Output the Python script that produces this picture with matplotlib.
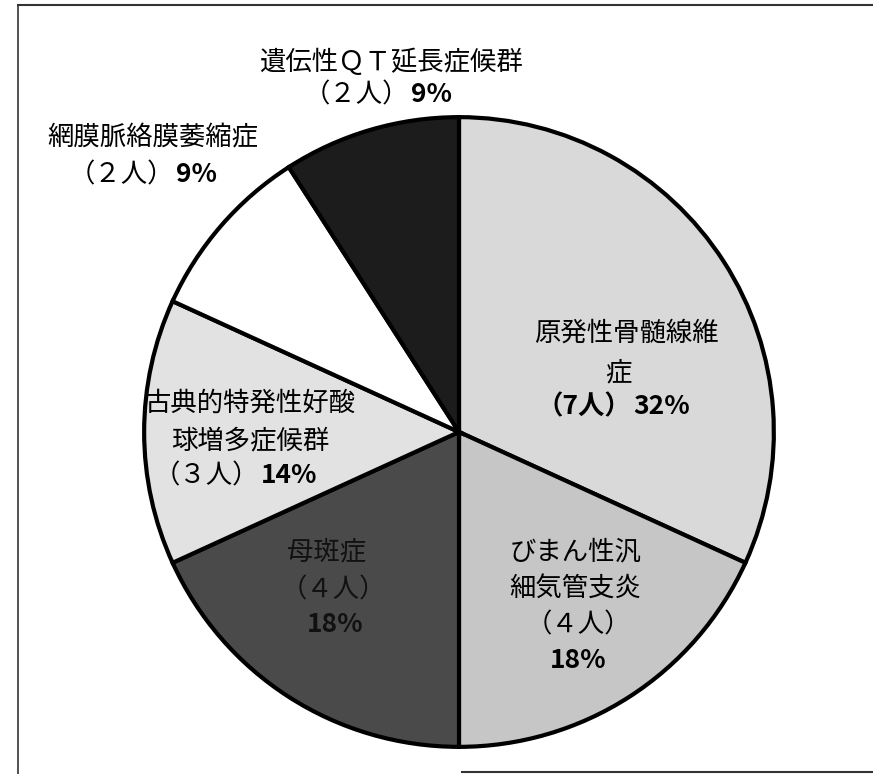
import matplotlib
matplotlib.use("Agg")
from matplotlib import pyplot as plt
from matplotlib.lines import Line2D

plt.rcParams['font.family'] = ['Noto Sans CJK JP', 'DejaVu Sans']

# donnees : 22 patients
diseases = ['原発性骨髄線維症', 'びまん性汎細気管支炎', '母斑症',
            '古典的特発性好酸球増多症候群', '網膜脈絡膜萎縮症', '遺伝性ＱＴ延長症候群']
patients = [7, 4, 4, 3, 2, 2]
count_labels = ['（7人）', '（４人）', '（４人）', '（３人）', '（２人）', '（２人）']
percents = ['32%', '18%', '18%', '14%', '9%', '9%']
colors = ['#d9d9d9', '#c6c6c6', '#4a4a4a', '#e2e2e2', '#ffffff', '#1c1c1c']

W, H = 873, 774
cx, cy, r = 459, 432, 318

fig = plt.figure(figsize=(W / 100, H / 100), dpi=100)
ax = fig.add_axes([(cx - r) / W, (H - cy - r) / H, 2 * r / W, 2 * r / H])
ax.pie(patients, colors=colors, startangle=90, counterclock=False,
       wedgeprops=dict(edgecolor='black', linewidth=3))
ax.set_xlim(-1.01, 1.01)
ax.set_ylim(-1.01, 1.01)
ax.set_aspect('equal')
ax.axis('off')

# cadre scanne
fig.add_artist(Line2D([18 / W, 1], [1 - 5 / H, 1 - 5 / H], color='#333333', lw=1.5))
fig.add_artist(Line2D([18 / W, 18 / W], [0, 1 - 5 / H], color='#333333', lw=1.2))
fig.add_artist(Line2D([462 / W, 1], [1 - 772 / H, 1 - 772 / H], color='#333333', lw=1.5))

FS = 19

def put(x, y, s, bold=False, ha='center', color='black'):
  fig.text(x / W, 1 - y / H, s, ha=ha, va='center', fontsize=FS, color=color,
           fontweight='bold' if bold else 'normal', zorder=5)

def count_pct(x, y, i, bold_count=False, gap=2):
  # "(n人)" en normal, le pourcentage en gras
  put(x - gap / 2, y, count_labels[i], bold=bold_count, ha='right')
  put(x + gap / 2, y, percents[i], bold=True, ha='left')

# 原発性骨髄線維症
put(626, 333, diseases[0][:7])
put(618, 373, diseases[0][7:])
count_pct(632, 407, 0, bold_count=True)

# びまん性汎細気管支炎
put(576, 552, diseases[1][:5])
put(575, 588, diseases[1][5:])
put(578, 625, count_labels[1])
put(578, 660, percents[1], bold=True)

# 母斑症 (texte sombre sur fond sombre)
put(327, 552, diseases[2], color='#111111')
put(333, 590, count_labels[2], color='#111111')
put(335, 625, percents[2], bold=True, color='#111111')

# 古典的特発性好酸球増多症候群
put(250, 403, diseases[3][:8])
put(250, 441, diseases[3][8:])
count_pct(260, 476, 3)

# 網膜脈絡膜萎縮症
put(153, 138, diseases[4])
count_pct(175, 175, 4)

# 遺伝性QT延長症候群
put(392, 62, diseases[5])
count_pct(410, 95, 5)

fig.savefig('out.png', dpi=100, facecolor='white')
